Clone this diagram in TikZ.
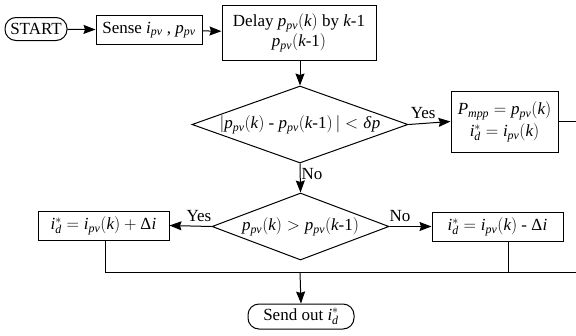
\documentclass[tikz,border=0pt]{standalone}
\usepackage{mathspec}
\setmainfont{Liberation Serif}
\setmathsfont(Digits,Latin,Greek){Liberation Serif}
\usetikzlibrary{arrows.meta,shapes.geometric}
\tikzset{
  box/.style={draw, line width=1pt, inner sep=2pt, align=center},
  pill/.style={draw, line width=1pt, rounded corners=11pt, inner sep=2pt},
  decision/.style={draw, diamond, line width=1pt, inner sep=0pt},
  flow/.style={line width=1pt, -{Stealth[length=12pt,width=9pt,inset=1.5pt]}},
  link/.style={line width=1pt},
  lbl/.style={inner sep=1pt},
}
\begin{document}
\begin{tikzpicture}[x=1pt,y=-1pt,font=\fontsize{17}{20}\selectfont]
\useasboundingbox (0,0) rectangle (576,335);
\begin{scope}
\clip (0,0) rectangle (576,335);
\node[pill, minimum width=62pt, minimum height=23pt] (start) at (36,29) {START};
\node[box, minimum width=106pt, minimum height=29pt] (sense) at (149,30) {Sense $i_{pv}$ , $p_{pv}$};
\node[box, minimum width=154pt, minimum height=55pt] (delay) at (299,32.5) {Delay $p_{pv}(k)$ by $k$-1\\ $p_{pv}(k$-1$)$};
\node[decision, minimum width=216pt, minimum height=77pt] (d1) at (300,124.5) {\makebox[0pt]{$|p_{pv}(k)$ - $p_{pv}(k$-1$)\,|<\delta p$}};
\node[box, minimum width=107pt, minimum height=61pt] (pmpp) at (504.5,121.5) {$P_{mpp}=p_{pv}(k)$\\[2pt] $i_d^*=i_{pv}(k)$};
\node[decision, minimum width=177pt, minimum height=67pt] (d2) at (300.5,226.5) {\makebox[0pt]{$p_{pv}(k)>p_{pv}(k$-1$)$}};
\node[box, minimum width=131pt, minimum height=29pt] (plus) at (103.5,225.5) {$i_d^*=i_{pv}(k)+\Delta i$};
\node[box, minimum width=131pt, minimum height=29pt] (minus) at (497.5,226.5) {$i_d^*=i_{pv}(k)$ - $\Delta i$};
\node[pill, minimum width=106pt, minimum height=25pt] (send) at (301,316.5) {Send out $i_d^*$};
\coordinate (join) at (300,272.5);
\coordinate (rightend) at (577,272.5);

\draw[flow] (start) -- (sense);
\draw[flow] (sense) -- (delay);
\draw[flow] (delay.south -| d1.north) -- (d1.north);
\draw[flow] (d1.east) -- node[lbl, above=3pt, pos=0.35] {Yes} (pmpp.west);
\draw[flow] (d1.south) -- node[lbl, right, pos=0.35] {No} (d2.north);
\draw[flow] (d2.west) -- node[lbl, above=3pt, pos=0.3] {Yes} (plus.east);
\draw[flow] (d2.east) -- node[lbl, above=3pt, pos=0.25] {No} (minus.west);
\draw[link] (pmpp.east) -- (pmpp.east -| rightend);
\draw[link] ([xshift=2pt]plus.south) |- (rightend);
\draw[link] ([xshift=11pt]minus.south) -- ([xshift=11pt]minus.south |- join);
\draw[flow] (join) -- (send.north);
\end{scope}
\end{tikzpicture}
\end{document}
